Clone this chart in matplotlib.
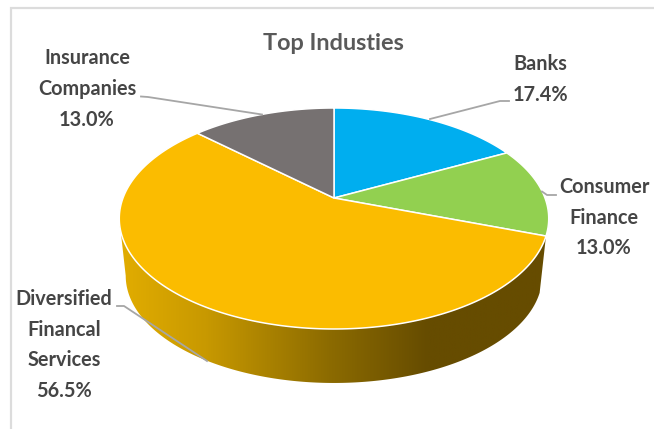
import numpy as np
import matplotlib
matplotlib.use("Agg")
import matplotlib.pyplot as plt
from matplotlib.colors import LinearSegmentedColormap
from matplotlib.patches import Polygon

categories = ["Banks", "Consumer\nFinance", "Diversified\nFinancal\nServices", "Insurance\nCompanies"]
shares = [17.4, 13.0, 56.5, 13.0]
slice_colors = ["#00AEEF", "#92D050", "#FBBC00", "#767171"]
title = "Top Industies"

plt.rcParams["font.family"] = ["Lato", "DejaVu Sans"]

W, H = 654, 429
fig = plt.figure(figsize=(W / 100, H / 100), dpi=100, facecolor="white")
ax = fig.add_axes([0, 0, 1, 1])
ax.set_axis_off()

# Perspective model of the tilted disc, in figure pixels
CX, CY = 334.0, 198.0
A, B, K = 211.0, 106.7, 0.1855
BASE_SCALE, BASE_DROP = 0.97, 57.9


def project(theta, scale=1.0, drop=0.0):
    """Map a clockwise-from-top angle on the disc rim to the screen."""
    u, v = np.sin(theta), -np.cos(theta)
    d = 1 - K * v
    return np.column_stack((CX + scale * A * u / d, CY + scale * B * v / d + drop))


def arc(start, end, scale=1.0, drop=0.0):
    return project(np.linspace(start, end, 200), scale, drop)


edges = np.radians(np.cumsum([0.0] + shares) / sum(shares) * 360)

# Side wall of the large slice, shaded from left to right;
# it ends at the widest point of the rim on the left
wall_start = edges[2]
wall_end = 1.5 * np.pi - np.arcsin(K)
wall_pts = np.vstack((arc(wall_start, wall_end),
                      arc(wall_end, wall_start, BASE_SCALE, BASE_DROP)))
wall = Polygon(wall_pts, closed=True, facecolor="none", edgecolor="none")
ax.add_patch(wall)
stops = [(0.0, "#E2AD00"), (0.2, "#C89900"), (0.49, "#8C6B00"),
         (0.72, "#664C00"), (1.0, "#664C00")]
shade = LinearSegmentedColormap.from_list("wall_shade", stops)
img = ax.imshow(np.linspace(0, 1, 512)[None, :], cmap=shade, aspect="auto",
                extent=(119, 548, 400, 200), zorder=1)
img.set_clip_path(wall)

# Top face of the pie
for i, color in enumerate(slice_colors):
    pts = np.vstack(([[CX, CY]], arc(edges[i], edges[i + 1])))
    ax.add_patch(Polygon(pts, closed=True, facecolor=color, edgecolor="white",
                         linewidth=1.1, joinstyle="round", zorder=2))

# Chart frame
frame = "#DCDCDC"
ax.plot([11, 11, W], [H, 8, 8], color=frame, lw=1.6, zorder=0,
        solid_joinstyle="miter")

# Leader lines
leaders = [
    ([509, 500, 430], [101, 101, 119]),
    ([556, 547, 542], [195, 195, 191.5]),
    ([117, 124, 207], [306, 306, 361]),
    ([141, 148, 262], [96.5, 97, 114.5]),
]
for xs, ys in leaders:
    ax.plot(xs, ys, color="#A6A6A6", lw=1.3, zorder=3)

# Slice labels
label_pos = [(540, 79.5), (604, 217.5), (64, 345), (87, 89)]
for name, share, (x, y) in zip(categories, shares, label_pos):
    ax.text(x, y, f"{name}\n{share:.1f}%", ha="center", va="center",
            fontsize=14.3, fontweight="bold", color="#454545",
            linespacing=1.66, zorder=4)

ax.text(333, 43, title, ha="center", va="center", fontsize=16.9,
        fontweight="bold", color="#595959", zorder=4)

ax.set_xlim(0, W)
ax.set_ylim(H, 0)
fig.savefig("out.png", dpi=100, facecolor="white")
